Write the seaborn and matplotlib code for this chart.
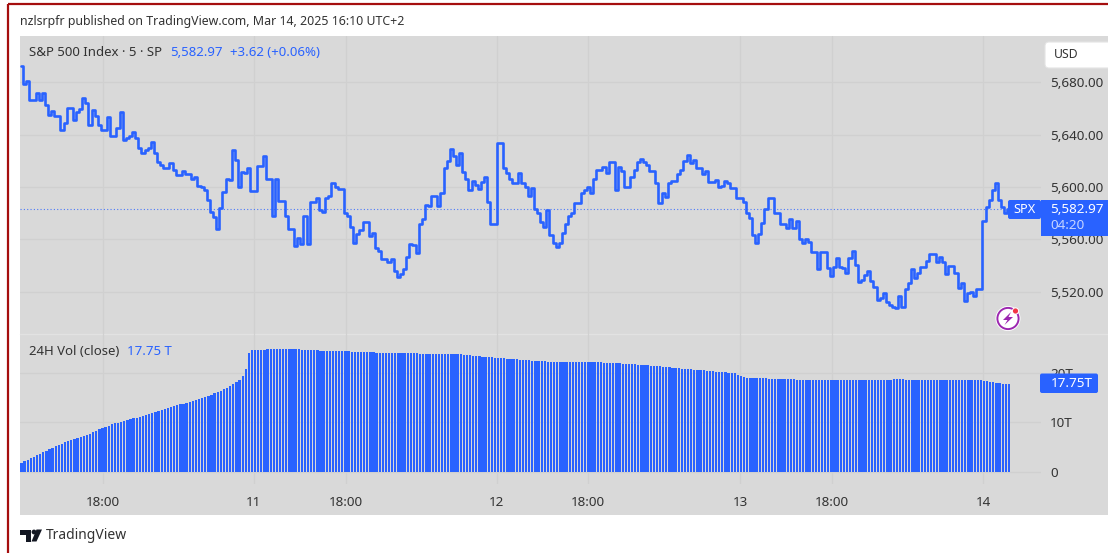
import numpy as np
import pandas as pd
import seaborn as sns
import matplotlib
matplotlib.use("Agg")
import matplotlib.pyplot as plt
from matplotlib.patches import Rectangle, Circle, Polygon, FancyBboxPatch

price = [
    5692.7,5678.5,5681.0,5666.5,5666.5,5671.6,5666.5,5671.6,5662.7,5655.1,
    5658.4,5654.3,5654.3,5643.6,5648.7,5660.1,5660.1,5651.2,5657.6,5659.4,
    5667.8,5664.0,5647.4,5658.9,5654.3,5647.4,5643.6,5643.6,5653.3,5639.0,
    5639.0,5644.9,5657.6,5636.0,5637.2,5639.0,5642.3,5637.2,5629.6,5626.3,
    5628.3,5629.6,5634.7,5625.8,5619.4,5616.9,5614.3,5614.3,
    5617.9,5612.8,5609.0,5609.0,5612.0,5610.2,5610.2,5605.9,5607.2,5600.8,
    5600.1,5598.0,5589.9,5581.0,5576.7,5567.8,5584.1,5596.3,5606.4,5605.2,
    5628.0,5620.9,5599.6,5611.5,5611.0,5614.6,5596.8,5596.8,5615.8,5615.8,
    5623.5,5605.9,5605.9,5577.7,5605.9,5589.1,5589.1,5577.7,5567.8,5567.8,
    5555.1,5560.7,5556.3,5577.7,5556.3,5588.6,5588.6,5591.7,5582.3,5580.5,
    5591.2,5593.2,5602.6,5600.1,5598.3,5598.3,5579.7,5577.7,5569.1,5557.4,
    5564.0,5567.0,5573.4,5573.4,5562.4,
    5565.0,5553.0,5551.2,5544.6,5544.6,5542.3,5544.9,5536.0,5530.9,5533.4,
    5537.0,5546.2,5556.3,5555.6,5549.7,5571.3,5575.2,5586.1,5585.6,5593.0,
    5593.0,5585.6,5595.0,5614.1,5619.9,5629.3,5623.5,5616.6,5626.3,5611.5,
    5605.7,5597.5,5604.4,5601.3,5598.3,5603.4,5607.2,5588.6,5571.6,5571.6,
    5633.6,5633.6,5614.1,5611.0,5605.9,5602.6,5602.6,5610.8,5602.6,5600.1,
    5593.0,5599.3,5583.0,5579.7,5573.4,5569.6,5582.3,
    5563.2,5556.8,5553.8,5556.8,5565.0,5571.6,5577.7,5579.7,5587.4,5587.4,
    5595.0,5598.0,5600.1,5595.0,5605.7,5612.8,5612.8,5615.3,5611.0,5619.1,
    5619.1,5597.5,5615.3,5612.3,5600.1,5600.1,5607.7,5612.8,5619.1,
    5621.7,5619.1,5616.6,5612.3,5612.3,5602.6,5587.9,5595.5,5592.4,5602.6,
    5604.7,5604.7,5610.2,5612.8,5619.9,5624.2,5618.6,5620.4,5614.6,
    5614.6,5610.2,5612.3,5603.9,5603.9,5605.2,5600.1,5600.6,5604.4,5602.6,
    5599.3,5599.3,5591.2,5591.2,
    5588.6,5579.7,5575.9,5563.2,5557.4,5564.0,5572.6,5582.8,5591.2,5591.2,
    5579.7,5579.7,5571.6,5571.6,5568.3,5575.2,5568.3,5574.1,5559.9,5557.4,
    5559.9,5558.1,5550.5,5550.5,5537.0,5550.5,5550.5,5537.8,5532.2,5539.0,
    5545.4,5538.5,5537.8,5534.0,5545.4,5551.2,5540.3,5527.1,5528.9,
    5532.7,5536.0,5528.4,5523.8,5513.6,5514.9,5519.2,5512.3,5509.8,5508.0,
    5507.3,5516.2,5507.8,5521.7,5526.3,5537.0,5530.1,5534.0,5538.5,5539.0,
    5543.6,5548.7,5548.7,5542.9,5546.7,5542.9,5533.4,5539.5,5539.5,5534.0,
    5522.5,5526.3,5513.1,5519.2,5520.0,5516.7,5521.7,5521.7,5574.1,5584.8,
    5589.9,5597.5,5603.1,5589.9,5584.3,5579.7,5582.97,
]

volume = [
    1.7,2.1,2.4,2.7,3.0,3.3,3.6,3.9,4.2,4.5,
    4.8,5.1,5.3,5.6,5.9,6.1,6.4,6.6,6.8,7.0,
    7.2,7.4,7.6,7.9,8.2,8.5,8.8,9.0,9.2,9.5,
    9.7,9.8,10.1,10.3,10.5,10.6,10.8,10.9,11.1,11.3,
    11.5,11.7,11.9,12.0,12.2,12.4,12.6,12.8,13.0,13.2,
    13.4,13.6,13.7,13.9,14.1,14.3,14.4,14.6,14.8,15.0,
    15.3,15.5,15.8,16.0,16.3,16.6,16.9,17.2,17.6,18.0,
    18.5,19.2,20.7,23.9,
    24.6,24.6,24.6,24.6,24.6,24.7,
    24.7,24.7,24.7,24.7,24.7,24.7,24.7,24.7,24.7,24.7,
    24.6,24.6,24.6,24.5,24.5,24.5,24.4,24.4,24.4,24.4,
    24.3,24.3,24.3,24.3,24.3,24.3,24.2,24.2,24.2,24.2,
    24.1,24.1,24.1,24.1,24.0,24.0,24.0,24.0,24.0,23.9,
    23.9,23.9,23.9,23.9,23.9,23.9,23.9,23.9,23.8,23.8,
    23.8,23.8,23.8,23.8,23.8,23.8,23.8,23.8,23.8,23.8,
    23.8,23.7,23.6,23.5,23.5,23.4,23.3,23.3,23.2,23.2,
    23.1,23.1,23.0,23.0,22.9,22.9,22.8,22.8,22.7,22.7,
    22.6,22.6,22.5,22.5,22.4,22.4,22.3,22.3,22.3,22.2,
    22.2,22.2,22.2,22.1,22.1,22.1,22.1,22.1,22.1,22.1,
    22.1,22.1,22.1,22.1,22.1,22.1,22.1,22.0,22.0,22.0,
    21.9,21.9,21.9,21.8,21.8,21.7,21.7,21.7,21.6,21.6,
    21.5,21.5,21.4,21.4,21.3,21.3,21.2,21.2,21.1,21.0,
    21.0,20.9,20.8,20.8,20.7,20.7,20.6,20.6,20.5,20.5,
    20.4,20.3,20.3,20.2,20.2,20.1,20.1,20.0,19.9,19.8,
    19.5,19.2,19.0,18.9,18.9,18.9,18.8,18.8,18.8,18.8,
    18.7,18.7,18.7,18.7,18.6,18.6,18.6,18.6,18.6,18.5,
    18.5,18.5,18.4,18.4,18.4,18.4,18.4,18.5,18.5,18.5,
    18.5,18.5,18.5,18.5,18.5,18.5,18.5,18.5,18.5,18.5,
    18.5,18.5,18.5,18.5,18.5,18.5,18.5,18.5,18.5,18.5,
    18.6,18.6,18.6,18.6,18.5,18.5,18.5,18.5,18.5,18.5,
    18.5,18.5,18.5,18.5,18.5,18.5,18.5,18.5,18.5,18.5,
    18.5,18.5,18.5,18.5,18.5,18.5,18.4,18.4,18.4,18.3,
    18.2,18.1,18.0,17.9,17.8,17.75,17.75,17.75,
]

time_ticks = [26.2, 74.6, 104.2, 152.6, 181.9, 230.7, 260.3, 308.7]
time_labels = ["18:00", "11", "18:00", "12", "18:00", "13", "18:00", "14"]
price_ticks = [5520, 5560, 5600, 5640, 5680]
price_labels = ["5,520.00", "5,560.00", "5,600.00", "5,640.00", "5,680.00"]
vol_ticks = [0, 10, 20]
vol_labels = ["0", "10T", "20T"]
last_price = 5582.97

BLUE = "#2962ff"
GRAY = "#d9d9d9"
GRID = "#d0d0d0"
TEXT = "#333333"

sns.set_theme(style="white")
plt.rcParams["font.family"] = ["Noto Sans", "DejaVu Sans"]

W, H = 1108, 553
fig = plt.figure(figsize=(W / 100, H / 100), dpi=100, facecolor="white")


def box(x0, y0, x1, y1):
    return [x0 / W, 1 - y1 / H, (x1 - x0) / W, (y1 - y0) / H]


bg = fig.add_axes([0, 0, 1, 1], zorder=0)
bg.set_xlim(0, W)
bg.set_ylim(H, 0)
bg.axis("off")
bg.add_patch(Rectangle((20, 36), 1090, 479, fc=GRAY, ec="none"))
bg.plot([20, 1108], [334, 334], color="#e2e2e2", lw=1)

XLIM = (-0.48, 327.3)

ax = fig.add_axes(box(20, 36, 1041, 334), zorder=2, facecolor="none")
df_p = pd.DataFrame({"bar": np.arange(len(price)), "price": price})
sns.lineplot(data=df_p, x="bar", y="price", ax=ax, color=BLUE, lw=1.9,
             drawstyle="steps-mid", errorbar=None, zorder=4)
ax.axhline(last_price, color=BLUE, lw=0.8, ls=(0, (1, 2)), zorder=3, alpha=0.8)
ax.set_xlim(*XLIM)
ax.set_ylim(5487.5, 5715.4)
ax.set_xticks(time_ticks)
ax.set_xticklabels([])
ax.set_yticks(price_ticks)
ax.set_yticklabels(price_labels, fontsize=9.7, color=TEXT)
ax.yaxis.tick_right()
ax.tick_params(axis="y", length=0, pad=6.5)
ax.tick_params(axis="x", length=0)
ax.set_xlabel("")
ax.set_ylabel("")
ax.grid(True, color=GRID, lw=0.9)
ax.set_axisbelow(True)
for s in ax.spines.values():
    s.set_visible(False)

vax = fig.add_axes(box(20, 334, 1041, 484), zorder=2, facecolor="none")
df_v = pd.DataFrame({"bar": np.arange(len(volume)), "vol": volume})
sns.barplot(data=df_v, x="bar", y="vol", ax=vax, color=BLUE, saturation=1,
            native_scale=True, width=0.74, errorbar=None, zorder=3,
            linewidth=0, edgecolor="none")
vax.set_xlim(*XLIM)
vax.set_ylim(-2.525, 27.78)
vax.set_xticks(time_ticks)
vax.set_xticklabels(time_labels, fontsize=9.7, color=TEXT)
vax.set_yticks(vol_ticks)
vax.set_yticklabels(vol_labels, fontsize=9.7, color=TEXT)
vax.yaxis.tick_right()
vax.tick_params(axis="y", length=0, pad=6.5)
vax.tick_params(axis="x", length=0, pad=8.5)
vax.set_xlabel("")
vax.set_ylabel("")
vax.grid(True, color=GRID, lw=0.9)
vax.set_axisbelow(True)
for s in vax.spines.values():
    s.set_visible(False)

ov = fig.add_axes([0, 0, 1, 1], zorder=5, facecolor="none")
ov.set_xlim(0, W)
ov.set_ylim(H, 0)
ov.axis("off")

# page border
ov.plot([8, 8], [4, H], color="#a50e0e", lw=1.6, solid_capstyle="butt")
ov.plot([8, W], [4, 4], color="#a50e0e", lw=1.6, solid_capstyle="butt")


def txt(x, y, s, color=TEXT, size=9.0, ha="left", **kw):
    ov.text(x, y, s, color=color, fontsize=size, ha=ha, va="center", **kw)


txt(20, 22, "nzlsrpfr published on TradingView.com, Mar 14, 2025 16:10 UTC+2", size=8.9)
txt(29, 52.5, "S&P 500 Index · 5 · SP", size=9.5)
txt(170, 52.5, "5,582.97", color=BLUE, size=9.5)
txt(230, 52.5, "+3.62 (+0.06%)", color=BLUE, size=9.5)
txt(29, 351.5, "24H Vol (close)", size=9.5)
txt(127, 351.5, "17.75 T", color=BLUE, size=9.5)

# USD button
ov.add_patch(FancyBboxPatch((1045, 42), 72, 26, boxstyle="round,pad=0,rounding_size=4",
                            fc="white", ec="#e4e4e4", lw=0.8))
txt(1066.5, 54.5, "USD", ha="center", size=8.8)

# last-value badges
ov.add_patch(FancyBboxPatch((1008, 200), 33, 19, boxstyle="round,pad=0,rounding_size=2",
                            fc=BLUE, ec="none"))
txt(1024, 209.5, "SPX", color="white", ha="center", size=9.2, fontweight="medium")
ov.add_patch(Rectangle((1041, 200), 67, 35.5, fc=BLUE, ec="none"))
txt(1050, 209.5, "5,582.97", color="white", size=9.7, fontweight="medium")
txt(1050, 225.5, "04:20", color="#c5d4ff", size=9.7)
ov.add_patch(FancyBboxPatch((1040, 373.5), 58, 19.5, boxstyle="round,pad=0,rounding_size=2",
                            fc=BLUE, ec="none"))
txt(1051, 383.5, "17.75T", color="white", size=9.7, fontweight="medium")

# lightning icon
ov.add_patch(Circle((1008, 318.5), 12.5, fc="white", ec="none"))
ov.add_patch(Circle((1008, 318.5), 10.6, fc="white", ec="#9c27b0", lw=1.4))
ov.add_patch(Polygon([[1011, 312], [1003, 320], [1007.5, 320], [1004.5, 325],
                      [1013, 317], [1008.5, 317]], closed=True, fc="#9c27b0", ec="none"))
ov.add_patch(Circle((1015.5, 311), 3.6, fc="white", ec="none"))
ov.add_patch(Circle((1015.5, 311), 2.6, fc="#f23645", ec="none"))

# TradingView mark
ov.add_patch(Polygon([[20, 529.5], [31, 529.5], [31, 541.5], [26, 541.5], [26, 534.5], [20, 534.5]],
                     closed=True, fc="#131722", ec="none"))
ov.add_patch(Circle((34, 532), 2.4, fc="#131722", ec="none"))
ov.add_patch(Polygon([[36.5, 529.5], [42, 529.5], [36.5, 541.5], [31.5, 541.5]],
                     closed=True, fc="#131722", ec="none"))
txt(46, 535.5, "TradingView", size=10)

fig.savefig("out.png", dpi=100)
